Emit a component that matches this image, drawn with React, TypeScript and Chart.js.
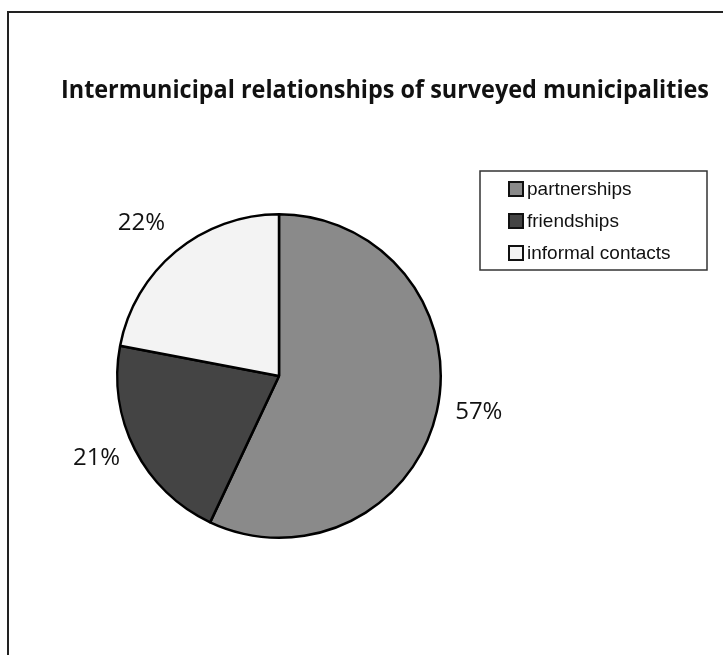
import React, { useEffect, useRef } from "react";
import { Chart, registerables } from "chart.js";

Chart.register(...registerables);

const TITLE = "Intermunicipal relationships of surveyed municipalities";
const categories = ["partnerships", "friendships", "informal contacts"];
const shares = [57, 21, 22];
const sliceColors = ["#8a8a8a", "#444444", "#f3f3f3"];
// label nudges (layout only), relative to a point outside each slice's mid-angle
const labelNudges = [
  [0, -9],
  [0, -11],
  [-7, 5],
];

const W = 723;
const H = 655;

const framePlugin = {
  id: "frame",
  beforeDraw(chart: any) {
    const ctx = chart.ctx;
    ctx.save();
    ctx.fillStyle = "#ffffff";
    ctx.fillRect(0, 0, W, H);
    ctx.strokeStyle = "#222222";
    ctx.lineWidth = 2;
    ctx.strokeRect(8, 12, W + 40, H + 40);
    ctx.fillStyle = "#111111";
    ctx.font = "bold 25px 'Open Sans', sans-serif";
    ctx.textAlign = "left";
    ctx.textBaseline = "alphabetic";
    const target = 648;
    const measured = ctx.measureText(TITLE).width;
    const sx = Math.min(1, target / measured);
    ctx.translate(61, 98);
    ctx.scale(sx, 1);
    ctx.fillText(TITLE, 0, 0);
    ctx.restore();
  },
};

const labelPlugin = {
  id: "pieLabels",
  afterDatasetsDraw(chart: any) {
    const ctx = chart.ctx;
    const meta = chart.getDatasetMeta(0);
    const data = chart.data.datasets[0].data as number[];
    ctx.save();
    ctx.fillStyle = "#111111";
    ctx.font = "24px 'Open Sans', sans-serif";
    ctx.textAlign = "center";
    ctx.textBaseline = "middle";
    meta.data.forEach((arc: any, i: number) => {
      const p = arc.getProps(["x", "y", "startAngle", "endAngle", "outerRadius"], true);
      const mid = (p.startAngle + p.endAngle) / 2;
      const r = p.outerRadius + 43;
      const x = p.x + Math.cos(mid) * r + labelNudges[i][0];
      const y = p.y + Math.sin(mid) * r + labelNudges[i][1];
      ctx.fillText(data[i] + "%", x, y);
    });
    ctx.restore();
  },
};

const legendPlugin = {
  id: "boxLegend",
  afterDraw(chart: any) {
    const ctx = chart.ctx;
    const ds = chart.data.datasets[0];
    const left = 480;
    const top = 171;
    const w = 227;
    const h = 99;
    ctx.save();
    ctx.strokeStyle = "#333333";
    ctx.lineWidth = 1.5;
    ctx.strokeRect(left, top, w, h);
    ctx.font = "19px 'Liberation Sans', Arial, sans-serif";
    ctx.textAlign = "left";
    ctx.textBaseline = "middle";
    chart.data.labels.forEach((lab: string, i: number) => {
      const cy = top + 18 + i * 32;
      ctx.fillStyle = ds.backgroundColor[i];
      ctx.fillRect(509, cy - 7, 14, 14);
      ctx.strokeStyle = "#111111";
      ctx.lineWidth = 2;
      ctx.strokeRect(509, cy - 7, 14, 14);
      ctx.fillStyle = "#111111";
      ctx.fillText(lab, 527, cy + 1);
    });
    ctx.restore();
  },
};

export default function App() {
  const ref = useRef<HTMLCanvasElement>(null);
  useEffect(() => {
    if (!ref.current) return;
    const chart = new Chart(ref.current, {
      type: "pie",
      data: {
        labels: categories,
        datasets: [
          {
            data: shares,
            backgroundColor: sliceColors,
            borderColor: "#000000",
            borderWidth: 2.5,
          },
        ],
      },
      options: {
        responsive: false,
        animation: false,
        layout: { padding: { left: 116, top: 212, right: 281, bottom: 115 } },
        plugins: {
          legend: { display: false },
          title: { display: false },
          tooltip: { enabled: false },
        },
      },
      plugins: [framePlugin, labelPlugin, legendPlugin],
    });
    return () => chart.destroy();
  }, []);
  return (
    <div style={{ position: "absolute", left: 0, top: 0, width: W, height: H, background: "#fff" }}>
      <canvas ref={ref} width={W} height={H} style={{ display: "block" }} />
    </div>
  );
}
